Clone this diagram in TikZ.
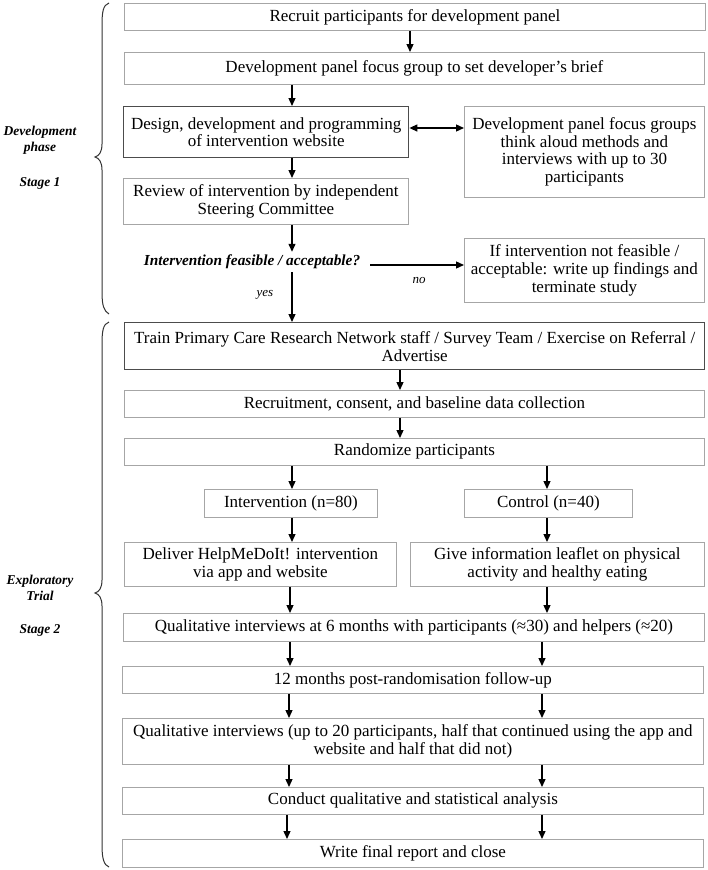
\documentclass[tikz,border=0pt]{standalone}
\usepackage{fontspec}
\setmainfont{Liberation Serif}
\usetikzlibrary{arrows.meta,calc}
\begin{document}
\begin{tikzpicture}[x=1pt,y=-1pt,
 box/.style={draw=black!35, line width=0.8pt, rectangle, inner sep=0pt, anchor=north west, align=center, font=\fontsize{17}{17.8}\selectfont},
 tbox/.style={box, draw=black!70, line width=1.4pt},
 arr/.style={line width=1.3pt, -{Triangle[length=8pt,width=7pt]}},
 darr/.style={line width=1.3pt, {Triangle[length=8pt,width=7pt]}-{Triangle[length=8pt,width=7pt]}},
 lab/.style={font=\fontsize{13.5}{16}\selectfont\bfseries\itshape, align=center},
 brace/.style={line width=1pt, draw=black!80},
]
\useasboundingbox (0,0) rectangle (708,870);
% column coordinates
\coordinate (xa) at (410,0);
\coordinate (xb) at (292,0);
\coordinate (xc) at (400,0);
\coordinate (xd) at (547,0);
\coordinate (xe) at (542,0);
\coordinate (xf) at (290,0);
\coordinate (xg) at (289,0);
\coordinate (xh) at (287,0);
\coordinate (yd) at (0,128);
% boxes
\node[box, minimum width=581pt, minimum height=27pt] (b1) at (124,3) {Recruit participants for development panel};
\node[box, minimum width=580pt, minimum height=32pt] (b2) at (124,52) {Development panel focus group to set developer's brief};
\node[tbox, minimum width=285pt, minimum height=51pt] (b3) at (123,106) {Design, development and programming\\of intervention website};
\node[box, minimum width=240pt, minimum height=91pt] (side) at (464,106) {Development panel focus groups\\think aloud methods and\\interviews with up to 30\\participants};
\node[box, minimum width=285pt, minimum height=46pt] (b4) at (123,178) {Review of intervention by independent\\Steering Committee};
\node[font=\fontsize{15.3}{17}\selectfont\bfseries\itshape, inner sep=3pt] (dec) at (252,262) {Intervention feasible / acceptable?};
\node[box, minimum width=240pt, minimum height=64pt] (nob) at (464,238) {If intervention not feasible /\\acceptable: write up findings and\\terminate study};
\node[tbox, minimum width=580pt, minimum height=47pt] (b5) at (124,322) {Train Primary Care Research Network staff / Survey Team / Exercise on Referral /\\Advertise};
\node[box, minimum width=580pt, minimum height=27pt] (b6) at (124,390) {Recruitment, consent, and baseline data collection};
\node[box, minimum width=580pt, minimum height=27pt] (b7) at (124,438) {Randomize participants};
\node[box, minimum width=173pt, minimum height=28pt] (int) at (204,489) {Intervention (n=80)};
\node[box, minimum width=168pt, minimum height=28pt] (con) at (464,489) {Control (n=40)};
\node[box, minimum width=272pt, minimum height=44pt] (del) at (124,542) {Deliver HelpMeDoIt! intervention\\via app and website};
\node[box, minimum width=294pt, minimum height=44pt] (give) at (410,542) {Give information leaflet on physical\\activity and healthy eating};
\node[box, minimum width=581pt, minimum height=28pt] (q6) at (123,613) {Qualitative interviews at 6 months with participants (≈30) and helpers (≈20)};
\node[box, minimum width=581pt, minimum height=27pt] (m12) at (122,666) {12 months post-randomisation follow-up};
\node[box, minimum width=581pt, minimum height=46pt] (q20) at (122,718) {Qualitative interviews (up to 20 participants, half that continued using the app and\\website and half that did not)};
\node[box, minimum width=581pt, minimum height=27pt] (cond) at (122,787) {Conduct qualitative and statistical analysis};
\node[box, minimum width=581pt, minimum height=28pt] (wr) at (122,839) {Write final report and close};
% labels
\node[lab] (l1) at (40,140) {Development\\phase};
\node[lab] (l2) at (40,183) {Stage 1};
\node[lab] (l3) at (40,588) {Exploratory\\Trial};
\node[lab] (l4) at (40,630) {Stage 2};
\node[font=\fontsize{13}{15}\selectfont\itshape] (yes) at (265,295) {yes};
\node[font=\fontsize{13}{15}\selectfont\itshape] (no) at (419,280) {no};
% arrows
\draw[arr] (b1.south -| xa) -- (b2.north -| xa);
\draw[arr] (b2.south -| xb) -- (b3.north -| xb);
\draw[darr] (b3.east |- yd) -- (side.west |- yd);
\draw[arr] (b3.south -| xb) -- (b4.north -| xb);
\draw[arr] (b4.south -| xb) -- (dec.north -| xb);
\coordinate (ns) at (370,265);
\draw[arr] (ns) -- (nob.west |- ns);
\draw[arr] (dec.south -| xb) -- (b5.north -| xb);
\draw[arr] (b5.south -| xc) -- (b6.north -| xc);
\draw[arr] (b6.south -| xc) -- (b7.north -| xc);
\draw[arr] (b7.south -| xb) -- (int.north -| xb);
\draw[arr] (b7.south -| xd) -- (con.north -| xd);
\draw[arr] (int.south -| xb) -- (del.north -| xb);
\draw[arr] (con.south -| xd) -- (give.north -| xd);
\draw[arr] (del.south -| xf) -- (q6.north -| xf);
\draw[arr] (give.south -| xd) -- (q6.north -| xd);
\draw[arr] (q6.south -| xf) -- (m12.north -| xf);
\draw[arr] (q6.south -| xe) -- (m12.north -| xe);
\draw[arr] (m12.south -| xg) -- (q20.north -| xg);
\draw[arr] (m12.south -| xe) -- (q20.north -| xe);
\draw[arr] (q20.south -| xg) -- (cond.north -| xg);
\draw[arr] (q20.south -| xe) -- (cond.north -| xe);
\draw[arr] (cond.south -| xh) -- (wr.north -| xh);
\draw[arr] (cond.south -| xe) -- (wr.north -| xe);
% braces
\draw[brace] (109,3) .. controls (103,5) and (102,12) .. (102,26) -- (102,144) .. controls (102,152) and (99,156) .. (95,157) .. controls (99,158) and (102,162) .. (102,170) -- (102,292) .. controls (102,306) and (104,311) .. (109,314);
\draw[brace] (109,322) .. controls (103,324) and (102,331) .. (102,345) -- (102,580) .. controls (102,588) and (99,592) .. (95,593) .. controls (99,594) and (102,598) .. (102,606) -- (102,845) .. controls (102,859) and (104,865) .. (109,867);
\end{tikzpicture}
\end{document}
